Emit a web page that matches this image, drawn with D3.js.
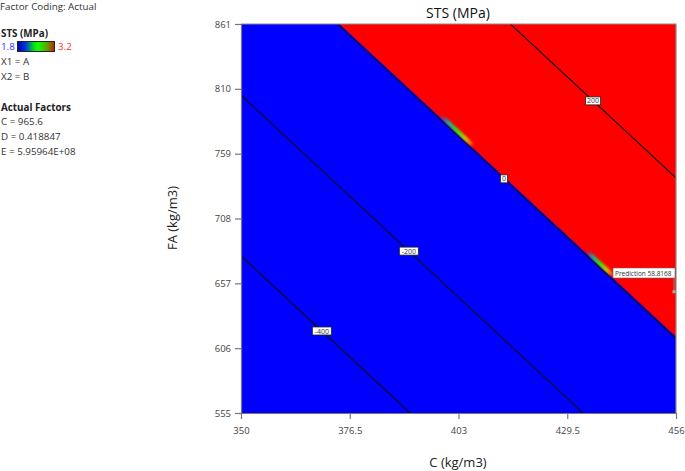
<!DOCTYPE html>
<html><head><meta charset="utf-8">
<script src="https://cdn.jsdelivr.net/npm/d3@7"></script>
<style>
body{margin:0;background:#fff;}
text{font-family:"Open Sans","Noto Sans",sans-serif;}
</style></head>
<body><svg id="c" width="685" height="471"></svg>
<script>
// ---- data ----
const cDomain = [350, 456];
const faDomain = [555, 861];
const cTicks = [350, 376.5, 403, 429.5, 456];
const faTicks = [555, 606, 657, 708, 759, 810, 861];
// linear response (STS) : value = coefC*C + coefFA*FA + intercept
const modelCoef = [4.745, 1.582];
const modelIntercept = -3134.3;
const contourLevels = [-400, -200, 0, 200];
const contourLabels = ["-400", "-200", "0", "200"];
const contourLabelC = [369.7, 390.9, 414.1, 435.8];
const colorRange = [1.8, 3.2];
const streakC = [[398.6, 406.8], [434.2, 440.8]];
const predictionC = 456;
const predictionFA = 650.4;
const predictionValue = "58.8168";
const legendLines = ["X1 = A", "X2 = B"];
const actualFactors = ["C = 965.6", "D = 0.418847", "E = 5.95964E+08"];

// ---- layout ----
const svg = d3.select("#c");
const L = 241, R = 676, T = 24, B = 413;
const x = d3.scaleLinear().domain(cDomain).range([L, R]);
const y = d3.scaleLinear().domain(faDomain).range([B, T]);
const faAt = (level, c) => (level - modelIntercept - modelCoef[0] * c) / modelCoef[1];
const cSamples = d3.range(cDomain[0] - 60, cDomain[1] + 60.1, 2);

const defs = svg.append("defs");
defs.append("clipPath").attr("id", "plot").append("rect")
  .attr("x", L).attr("y", T).attr("width", R - L).attr("height", B - T);

const g = svg.append("g").attr("clip-path", "url(#plot)");
// blue background (below 1.8)
g.append("rect").attr("x", L).attr("y", T).attr("width", R - L).attr("height", B - T).attr("fill", "#0000ff");
// red region (above 3.2)
const mid = (colorRange[0] + colorRange[1]) / 2;
g.append("path")
  .datum(cSamples)
  .attr("fill", "#ff0000")
  .attr("d", d3.area().x(c => x(c)).y0(T - 100).y1(c => y(faAt(mid, c)))(cSamples));

// transition streaks
const blur = defs.append("filter").attr("id", "blur").attr("x", "-50%").attr("y", "-50%").attr("width", "200%").attr("height", "200%");
blur.append("feGaussianBlur").attr("stdDeviation", 0.9);
streakC.forEach((s, i) => {
  const lv = 5.5;
  const x1 = x(s[0]), y1 = y(faAt(lv, s[0])), x2 = x(s[1]), y2 = y(faAt(lv, s[1]));
  const gr = defs.append("linearGradient").attr("id", "st" + i).attr("gradientUnits", "userSpaceOnUse")
    .attr("x1", x1).attr("y1", y1).attr("x2", x2).attr("y2", y2);
  [[0, "#0060ff", 0], [0.2, "#00b0c0", 0.9], [0.5, "#20f000", 1], [0.75, "#c0d000", 1], [0.9, "#ff8000", 0.8], [1, "#ff3000", 0]]
    .forEach(d => gr.append("stop").attr("offset", d[0]).attr("stop-color", d[1]).attr("stop-opacity", d[2]));
  g.append("line").attr("x1", x1).attr("y1", y1).attr("x2", x2).attr("y2", y2)
    .attr("stroke", `url(#st${i})`).attr("stroke-width", 4).attr("filter", "url(#blur)");
});

// contour lines
const line = d3.line().x(c => x(c));
contourLevels.forEach(lv => {
  g.append("path").attr("fill", "none").attr("stroke", "#101010").attr("stroke-width", 1.1)
    .attr("d", line.y(c => y(faAt(lv, c)))(cSamples));
});
// contour labels
contourLevels.forEach((lv, i) => {
  const cx = x(contourLabelC[i]), cy = y(faAt(lv, contourLabelC[i]));
  const t = contourLabels[i];
  const w = t.length * 4 + 3;
  svg.append("rect").attr("x", cx - w / 2).attr("y", cy - 4).attr("width", w).attr("height", 8)
    .attr("fill", "#fff").attr("stroke", "#222").attr("stroke-width", 0.8);
  svg.append("text").attr("x", cx).attr("y", cy + 2.6).attr("text-anchor", "middle")
    .attr("font-size", 7).attr("fill", "#333").text(t);
});

// frame
svg.append("path").attr("d", `M${L},${T}H${R}V${B}`).attr("fill", "none").attr("stroke", "#8a8a8a").attr("stroke-width", 1.2);

// axes
const ax = svg.append("g").attr("transform", `translate(0,${B})`)
  .call(d3.axisBottom(x).tickValues(cTicks).tickFormat(d => d).tickSize(6).tickSizeOuter(0).tickPadding(8));
const ay = svg.append("g").attr("transform", `translate(${L},0)`)
  .call(d3.axisLeft(y).tickValues(faTicks).tickFormat(d => d).tickSize(6).tickSizeOuter(0).tickPadding(4));
[ax, ay].forEach(a => {
  a.selectAll("path,line").attr("stroke", "#777").attr("stroke-width", 1.2);
  a.selectAll("text").attr("font-size", 9.5).attr("fill", "#444").attr("font-family", "'Open Sans','Noto Sans',sans-serif");
});

// titles
svg.append("text").attr("x", 458).attr("y", 18).attr("text-anchor", "middle").attr("font-size", 14).attr("fill", "#111").text("STS (MPa)");
svg.append("text").attr("x", 458).attr("y", 467).attr("text-anchor", "middle").attr("font-size", 13).attr("fill", "#222").text("C (kg/m3)");
svg.append("text").attr("transform", "translate(177,218) rotate(-90)").attr("text-anchor", "middle").attr("font-size", 13).attr("fill", "#222").text("FA (kg/m3)");

// prediction flag
const px = x(predictionC) - 2, py = y(predictionFA);
svg.append("line").attr("x1", px).attr("x2", px).attr("y1", 278).attr("y2", py).attr("stroke", "#888").attr("stroke-width", 1);
svg.append("rect").attr("x", px - 1.5).attr("y", py - 1.5).attr("width", 3).attr("height", 3).attr("fill", "#aaa");
svg.append("rect").attr("x", 613).attr("y", 268).attr("width", 62).attr("height", 10).attr("fill", "#fff").attr("stroke", "#666").attr("stroke-width", 0.6);
svg.append("text").attr("x", 615).attr("y", 275.5).attr("font-size", 6.5).attr("fill", "#333")
  .text("Prediction  " + predictionValue);

// left legend
const lg = svg.append("g").attr("font-size", 9.8).attr("fill", "#333");
lg.append("text").attr("x", 0).attr("y", 9.5).text("Factor Coding: Actual");
lg.append("text").attr("x", 1).attr("y", 37).attr("font-weight", "bold").attr("fill", "#222").text("STS (MPa)");
const cg = defs.append("linearGradient").attr("id", "cbar");
[[0, "#0000b0"], [0.2, "#0030e0"], [0.45, "#00e020"], [0.55, "#10ff00"], [0.8, "#60a000"], [1, "#c02000"]]
  .forEach(d => cg.append("stop").attr("offset", d[0]).attr("stop-color", d[1]));
lg.append("rect").attr("x", 17.5).attr("y", 41.5).attr("width", 37).attr("height", 10).attr("fill", "url(#cbar)").attr("stroke", "#222").attr("stroke-width", 1);
lg.append("text").attr("x", 1).attr("y", 50).attr("fill", "#3030ff").text(colorRange[0]);
lg.append("text").attr("x", 58).attr("y", 50).attr("fill", "#ff3030").text(colorRange[1]);
legendLines.forEach((t, i) => lg.append("text").attr("x", 1).attr("y", 65 + i * 15).text(t));
lg.append("text").attr("x", 1).attr("y", 111).attr("font-weight", "bold").attr("fill", "#222").text("Actual Factors");
actualFactors.forEach((t, i) => lg.append("text").attr("x", 1).attr("y", 125 + i * 15).text(t));
</script></body></html>
